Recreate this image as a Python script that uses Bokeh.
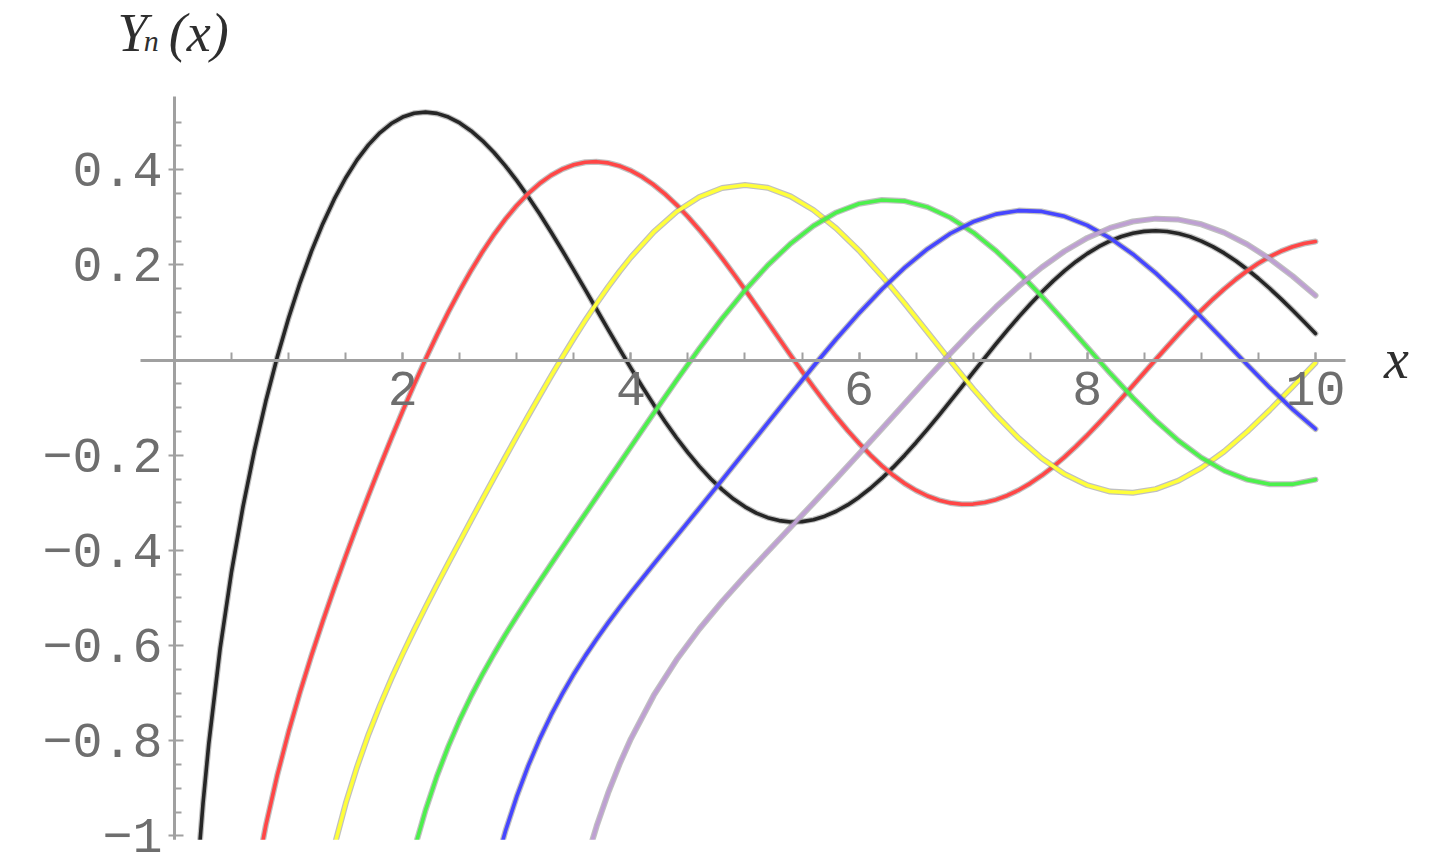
from bokeh.plotting import figure
from bokeh.models import (LinearAxis, FixedTicker, Label, Range1d,
                          CustomJSTickFormatter)
from bokeh.embed import file_html
from bokeh.resources import INLINE

# Bessel functions of the second kind Y_n(x), n = 0..5 (tabulated values)
x_y0 = [0.2, 0.25, 0.3, 0.4, 0.5, 0.6, 0.7, 0.8, 0.9, 1.0,
        1.1, 1.2, 1.3, 1.4, 1.5, 1.6, 1.7, 1.8, 1.9, 2.0,
        2.1, 2.2, 2.3, 2.4, 2.5, 2.6, 2.7, 2.8, 2.9, 3.0,
        3.1, 3.2, 3.3, 3.4, 3.5, 3.6, 3.7, 3.8, 3.9, 4.0,
        4.1, 4.2, 4.3, 4.4, 4.5, 4.6, 4.7, 4.8, 4.9, 5.0,
        5.1, 5.2, 5.3, 5.4, 5.5, 5.6, 5.7, 5.8, 5.9, 6.0,
        6.1, 6.2, 6.3, 6.4, 6.5, 6.6, 6.7, 6.8, 6.9, 7.0,
        7.1, 7.2, 7.3, 7.4, 7.5, 7.6, 7.7, 7.8, 7.9, 8.0,
        8.1, 8.2, 8.3, 8.4, 8.5, 8.6, 8.7, 8.8, 8.9, 9.0,
        9.1, 9.2, 9.3, 9.4, 9.5, 9.6, 9.7, 9.8, 9.9, 10.0]
y0 = [-1.0811, -0.9314, -0.8073, -0.6060, -0.4445, -0.3085, -0.1907, -0.0868, 0.0056, 0.0883,
      0.1622, 0.2281, 0.2865, 0.3379, 0.3824, 0.4204, 0.4520, 0.4774, 0.4968, 0.5104,
      0.5183, 0.5208, 0.5181, 0.5104, 0.4981, 0.4813, 0.4605, 0.4359, 0.4079, 0.3769,
      0.3431, 0.3071, 0.2691, 0.2296, 0.1890, 0.1477, 0.1061, 0.0645, 0.0234, -0.0169,
      -0.0561, -0.0938, -0.1296, -0.1633, -0.1947, -0.2235, -0.2494, -0.2723, -0.2921, -0.3085,
      -0.3216, -0.3313, -0.3374, -0.3402, -0.3395, -0.3354, -0.3282, -0.3177, -0.3044, -0.2882,
      -0.2694, -0.2483, -0.2251, -0.1999, -0.1732, -0.1452, -0.1162, -0.0864, -0.0563, -0.0259,
      0.0042, 0.0339, 0.0628, 0.0907, 0.1173, 0.1424, 0.1658, 0.1872, 0.2065, 0.2235,
      0.2381, 0.2501, 0.2595, 0.2662, 0.2702, 0.2715, 0.2700, 0.2659, 0.2592, 0.2499,
      0.2383, 0.2245, 0.2086, 0.1907, 0.1712, 0.1502, 0.1279, 0.1045, 0.0804, 0.0557]

x_y1 = [0.7, 0.8, 0.9, 1.0,
        1.1, 1.2, 1.3, 1.4, 1.5, 1.6, 1.7, 1.8, 1.9, 2.0,
        2.1, 2.2, 2.3, 2.4, 2.5, 2.6, 2.7, 2.8, 2.9, 3.0,
        3.1, 3.2, 3.3, 3.4, 3.5, 3.6, 3.7, 3.8, 3.9, 4.0,
        4.1, 4.2, 4.3, 4.4, 4.5, 4.6, 4.7, 4.8, 4.9, 5.0,
        5.1, 5.2, 5.3, 5.4, 5.5, 5.6, 5.7, 5.8, 5.9, 6.0,
        6.1, 6.2, 6.3, 6.4, 6.5, 6.6, 6.7, 6.8, 6.9, 7.0,
        7.1, 7.2, 7.3, 7.4, 7.5, 7.6, 7.7, 7.8, 7.9, 8.0,
        8.1, 8.2, 8.3, 8.4, 8.5, 8.6, 8.7, 8.8, 8.9, 9.0,
        9.1, 9.2, 9.3, 9.4, 9.5, 9.6, 9.7, 9.8, 9.9, 10.0]
y1 = [-1.1032, -0.9781, -0.8731, -0.7812,
      -0.6981, -0.6211, -0.5485, -0.4791, -0.4123, -0.3476, -0.2847, -0.2237, -0.1644, -0.1070,
      -0.0517, 0.0015, 0.0523, 0.1005, 0.1459, 0.1884, 0.2276, 0.2635, 0.2959, 0.3247,
      0.3496, 0.3707, 0.3879, 0.4010, 0.4102, 0.4154, 0.4167, 0.4141, 0.4078, 0.3979,
      0.3846, 0.3680, 0.3484, 0.3260, 0.3010, 0.2737, 0.2445, 0.2136, 0.1812, 0.1479,
      0.1137, 0.0792, 0.0445, 0.0101, -0.0238, -0.0568, -0.0887, -0.1192, -0.1481, -0.1750,
      -0.1998, -0.2223, -0.2422, -0.2596, -0.2741, -0.2857, -0.2945, -0.3002, -0.3029, -0.3027,
      -0.2995, -0.2934, -0.2846, -0.2731, -0.2591, -0.2428, -0.2243, -0.2039, -0.1817, -0.1581,
      -0.1331, -0.1072, -0.0806, -0.0535, -0.0262, 0.0011, 0.0280, 0.0544, 0.0799, 0.1043,
      0.1275, 0.1491, 0.1691, 0.1871, 0.2032, 0.2171, 0.2287, 0.2379, 0.2447, 0.2490]

x_y2 = [1.4, 1.5, 1.6, 1.7, 1.8, 1.9, 2.0,
        2.1, 2.2, 2.3, 2.4, 2.5, 2.6, 2.7, 2.8, 2.9, 3.0,
        3.1, 3.2, 3.3, 3.4, 3.5, 3.6, 3.7, 3.8, 3.9, 4.0,
        4.2, 4.4, 4.6, 4.8, 5.0, 5.2, 5.4, 5.6, 5.8, 6.0,
        6.2, 6.4, 6.6, 6.8, 7.0, 7.2, 7.4, 7.6, 7.8, 8.0,
        8.2, 8.4, 8.6, 8.8, 9.0, 9.2, 9.4, 9.6, 9.8, 10.0]
y2 = [-1.0223, -0.9321, -0.8549, -0.7869, -0.7260, -0.6699, -0.6174,
      -0.5675, -0.5194, -0.4726, -0.4267, -0.3814, -0.3364, -0.2919, -0.2477, -0.2038, -0.1604,
      -0.1176, -0.0754, -0.0340, 0.0063, 0.0454, 0.0831, 0.1191, 0.1535, 0.1857, 0.2159,
      0.2690, 0.3115, 0.3425, 0.3613, 0.3677, 0.3618, 0.3439, 0.3151, 0.2766, 0.2299,
      0.1766, 0.1188, 0.0586, -0.0019, -0.0606, -0.1154, -0.1645, -0.2063, -0.2395, -0.2630,
      -0.2763, -0.2789, -0.2712, -0.2535, -0.2267, -0.1921, -0.1509, -0.1050, -0.0560, -0.0059]

x_y3 = [2.1, 2.2, 2.3, 2.4, 2.5, 2.6, 2.7, 2.8, 2.9, 3.0,
        3.1, 3.2, 3.3, 3.4, 3.5, 3.6, 3.7, 3.8, 3.9, 4.0,
        4.2, 4.4, 4.6, 4.8, 5.0, 5.2, 5.4, 5.6, 5.8, 6.0,
        6.2, 6.4, 6.6, 6.8, 7.0, 7.2, 7.4, 7.6, 7.8, 8.0,
        8.2, 8.4, 8.6, 8.8, 9.0, 9.2, 9.4, 9.6, 9.8, 10.0]
y3 = [-1.0293, -0.9459, -0.8742, -0.8117, -0.7561, -0.7059, -0.6600, -0.6174, -0.5770, -0.5386,
      -0.5013, -0.4650, -0.4291, -0.3936, -0.3583, -0.3231, -0.2879, -0.2525, -0.2173, -0.1820,
      -0.1118, -0.0428, 0.0241, 0.0875, 0.1463, 0.1991, 0.2446, 0.2819, 0.3100, 0.3283,
      0.3362, 0.3339, 0.3212, 0.2991, 0.2681, 0.2293, 0.1842, 0.1342, 0.0811, 0.0266,
      -0.0276, -0.0793, -0.1272, -0.1696, -0.2051, -0.2326, -0.2513, -0.2609, -0.2608, -0.2514]

x_y4 = [2.8, 2.9, 3.0, 3.1, 3.2, 3.3, 3.4, 3.5, 3.6, 3.7, 3.8, 3.9, 4.0,
        4.2, 4.4, 4.6, 4.8, 5.0, 5.2, 5.4, 5.6, 5.8, 6.0,
        6.2, 6.4, 6.6, 6.8, 7.0, 7.2, 7.4, 7.6, 7.8, 8.0,
        8.2, 8.4, 8.6, 8.8, 9.0, 9.2, 9.4, 9.6, 9.8, 10.0]
y4 = [-1.0753, -0.9900, -0.9168, -0.8527, -0.7965, -0.7462, -0.7009, -0.6596, -0.6216, -0.5860,
      -0.5522, -0.5200, -0.4889,
      -0.4287, -0.3699, -0.3111, -0.2519, -0.1921, -0.1321, -0.0721, -0.0131, 0.0441, 0.0984,
      0.1488, 0.1942, 0.2334, 0.2658, 0.2904, 0.3065, 0.3139, 0.3122, 0.3019, 0.2830,
      0.2561, 0.2223, 0.1825, 0.1379, 0.0900, 0.0404, -0.0095, -0.0581, -0.1037, -0.1449]

x_y5 = [3.6, 3.7, 3.8, 3.9, 4.0,
        4.2, 4.4, 4.6, 4.8, 5.0, 5.2, 5.4, 5.6, 5.8, 6.0,
        6.2, 6.4, 6.6, 6.8, 7.0, 7.2, 7.4, 7.6, 7.8, 8.0,
        8.2, 8.4, 8.6, 8.8, 9.0, 9.2, 9.4, 9.6, 9.8, 10.0]
y5 = [-1.0582, -0.9791, -0.9100, -0.8494, -0.7958,
      -0.7048, -0.6298, -0.5651, -0.5073, -0.4537, -0.4023, -0.3514, -0.3006, -0.2492, -0.1971,
      -0.1442, -0.0912, -0.0383, 0.0136, 0.0638, 0.1113, 0.1551, 0.1944, 0.2285, 0.2564,
      0.2775, 0.2910, 0.2970, 0.2950, 0.2851, 0.2677, 0.2432, 0.2125, 0.1762, 0.1355]

series = [
    (x_y0, y0, "#262626"),
    (x_y1, y1, "#ff4646"),
    (x_y2, y2, "#ffff3a"),
    (x_y3, y3, "#4cf04c"),
    (x_y4, y4, "#4646ff"),
    (x_y5, y5, "#bea0d2"),
]

x_major = [2, 4, 6, 8, 10]
x_minor = [0.5, 1.0, 1.5, 2.0, 2.5, 3.0, 3.5, 4.0, 4.5, 5.0,
           5.5, 6.0, 6.5, 7.0, 7.5, 8.0, 8.5, 9.0, 9.5, 10.0]
y_major = [-1.0, -0.8, -0.6, -0.4, -0.2, 0.2, 0.4]
y_minor = [-0.95, -0.9, -0.85, -0.75, -0.7, -0.65, -0.55, -0.5, -0.45,
           -0.35, -0.3, -0.25, -0.15, -0.1, -0.05, 0.05, 0.1, 0.15,
           0.25, 0.3, 0.35, 0.45, 0.5]

# extent of the plotted region (axes are drawn only over this span)
x_lo, x_hi = -0.298, 10.262
y_lo, y_hi = -1.008, 0.5536
# extent of the whole canvas in data units
cx_lo, cx_hi = -1.525, 11.052
cy_lo, cy_hi = -1.0620, 0.7553

AXIS = "#a0a0a0"
TICK_TEXT = "#6e6e6e"
LABEL_TEXT = "#2e2e2e"

# the frame covers the whole canvas so that labels outside the axes stay visible
p = figure(width=1435, height=865, output_backend="svg", toolbar_location=None,
           x_range=Range1d(cx_lo, cx_hi), y_range=Range1d(cy_lo, cy_hi),
           x_axis_location=None, y_axis_location=None,
           min_border_left=0, min_border_right=0,
           min_border_top=0, min_border_bottom=0)
p.grid.grid_line_color = None
p.outline_line_color = None
p.background_fill_color = "white"
p.border_fill_color = "white"

# curves: soft grey edge under a coloured core (painted first)
for xs, ys, color in series:
    p.line(xs, ys, line_color="#8c8c8c", line_alpha=0.55, line_width=6,
           line_join="round", line_cap="round", level="image")
    p.line(xs, ys, line_color=color, line_width=3.6,
           line_join="round", line_cap="round", level="image")

# blank out the curve ends below the bottom of the plotted range
# (only to the right of the vertical axis, clear of the tick labels)
p.varea(x=[0.1, x_hi], y1=[cy_lo, cy_lo], y2=[y_lo, y_lo],
        fill_color="white", level="image")

# vertical axis line, limited to the plotted span
p.segment(x0=[0], y0=[y_lo], x1=[0], y1=[y_hi], line_color=AXIS,
          line_width=3, level="image")

# axes crossing at the origin, painted last
xaxis = LinearAxis(fixed_location=0, bounds=(x_lo, x_hi), level="overlay",
                   ticker=FixedTicker(ticks=x_major, minor_ticks=x_minor))
xaxis.axis_line_color = AXIS
xaxis.axis_line_width = 3
xaxis.major_tick_line_color = AXIS
xaxis.major_tick_line_width = 2
xaxis.major_tick_in = 8
xaxis.major_tick_out = 0
xaxis.minor_tick_line_color = AXIS
xaxis.minor_tick_line_width = 2
xaxis.minor_tick_in = 8
xaxis.minor_tick_out = 0
xaxis.major_label_standoff = 12
xaxis.major_label_text_font = "Liberation Mono"
xaxis.major_label_text_font_size = "50px"
xaxis.major_label_text_color = TICK_TEXT
p.add_layout(xaxis, "below")

# vertical axis: ticks and labels only (its line is the segment above)
yaxis = LinearAxis(fixed_location=0, level="overlay",
                   ticker=FixedTicker(ticks=y_major, minor_ticks=y_minor))
yaxis.formatter = CustomJSTickFormatter(code="""
    const a = Math.abs(tick);
    const s = (Math.abs(a - 1) < 1e-9) ? "1" : a.toFixed(1);
    return tick < 0 ? "\u2212" + s : s;
""")
yaxis.axis_line_color = None
yaxis.major_tick_line_color = AXIS
yaxis.major_tick_line_width = 2
yaxis.major_tick_in = 9
yaxis.major_tick_out = 6
yaxis.minor_tick_line_color = AXIS
yaxis.minor_tick_line_width = 2
yaxis.minor_tick_in = 7
yaxis.minor_tick_out = 0
yaxis.major_label_standoff = 6
yaxis.major_label_text_font = "Liberation Mono"
yaxis.major_label_text_font_size = "50px"
yaxis.major_label_text_color = TICK_TEXT
p.add_layout(yaxis, "left")

# axis labels
p.add_layout(Label(x=10.71, y=0.003, text="x", text_align="center",
                   text_baseline="alphabetic", text_font="Liberation Serif",
                   text_font_style="italic", text_font_size="56px",
                   text_color=LABEL_TEXT))
p.add_layout(Label(x=-0.50, y=0.686, text="Y", text_align="left",
                   text_baseline="alphabetic", text_font="Liberation Serif",
                   text_font_style="italic", text_font_size="54px",
                   text_color=LABEL_TEXT))
p.add_layout(Label(x=-0.27, y=0.671, text="n", text_align="left",
                   text_baseline="alphabetic", text_font="Liberation Serif",
                   text_font_style="italic", text_font_size="30px",
                   text_color=LABEL_TEXT))
p.add_layout(Label(x=-0.05, y=0.686, text="(x)", text_align="left",
                   text_baseline="alphabetic", text_font="Liberation Serif",
                   text_font_style="italic", text_font_size="54px",
                   text_color=LABEL_TEXT))

open("out.html", "w").write(file_html(p, INLINE))
